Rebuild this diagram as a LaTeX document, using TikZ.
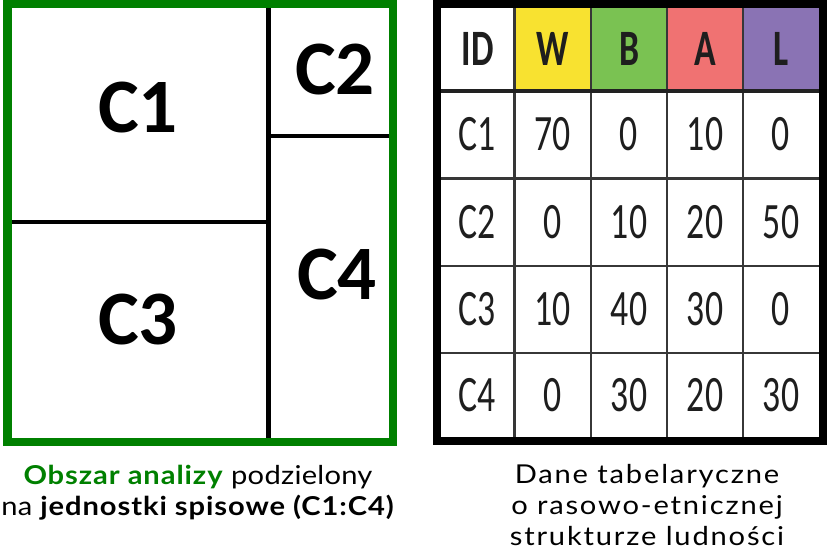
\documentclass[tikz,border=0pt]{standalone}
\usepackage{fontspec}
\setmainfont{Lato}
\newfontfamily\regionfont{Carlito}
\newfontfamily\tabfont[FakeStretch=0.7]{Carlito}
\newfontfamily\capleftfont[FakeStretch=1.12, LetterSpace=1, BoldFeatures={LetterSpace=3.5}]{Lato}
\newfontfamily\caprightfont[FakeStretch=1.12, LetterSpace=7]{Lato}
\usetikzlibrary{positioning}
\definecolor{obszarGreen}{RGB}{0,128,0}
\definecolor{colW}{RGB}{248,226,48}
\definecolor{colB}{RGB}{122,194,82}
\definecolor{colA}{RGB}{240,114,114}
\definecolor{colL}{RGB}{138,115,180}
\definecolor{gridGrey}{RGB}{55,55,55}
\definecolor{tabText}{RGB}{30,30,30}

\begin{document}
\begin{tikzpicture}[
  x=1pt, y=-1pt,
  region/.style={font=\regionfont\bfseries\fontsize{77}{77}\selectfont, inner sep=0pt},
  divider/.style={line width=4.5pt, black},
  cell/.style={font=\tabfont\fontsize{51}{51}\selectfont, text=tabText, inner sep=0pt},
  headcell/.style={font=\tabfont\bfseries\fontsize{51}{51}\selectfont, text=tabText, inner sep=0pt},
  grid/.style={line width=2.5pt, gridGrey},
  caption/.style={align=center, inner sep=0pt, anchor=north},
]
  \useasboundingbox (0,0) rectangle (827,553);

  % study area split into census units
  \draw[divider] (268.5,8) -- (268.5,442);
  \draw[divider] (11,222) -- (268.5,222);
  \draw[divider] (268.5,136) -- (389,136);
  \draw[line width=8.5pt, obszarGreen] (7.5,4) rectangle (393,442);

  \node[region] (c1) at (138,108) {C1};
  \node[region] (c2) at (335,70)  {C2};
  \node[region] (c3) at (138,320) {C3};
  \node[region] (c4) at (337,275) {C4};

  % table header
  \fill[colW] (514.5,8) rectangle (591,90);
  \fill[colB] (591,8) rectangle (667,90);
  \fill[colA] (667,8) rectangle (743,90);
  \fill[colL] (743,8) rectangle (819,90);

  \foreach \x in {514.5,591,667,743}
    \draw[grid] (\x,8) -- (\x,437);
  \foreach \y in {178.5,266,353}
    \draw[grid] (441,\y) -- (819,\y);
  \draw[line width=4pt, gridGrey!60!black] (441,91) -- (819,91);
  \draw[line width=8pt, black] (437,4) rectangle (823,441);

  \node[headcell] (hid) at (477.5,49) {ID};
  \node[headcell] (hw)  at (552.5,49) {W};
  \node[headcell] (hb)  at (629,49)   {B};
  \node[headcell] (ha)  at (705,49)   {A};
  \node[headcell] (hl)  at (781,49)   {L};

  % table rows
  \foreach \id/\w/\b/\a/\l/\y in {C1/70/0/10/0/134.5, C2/0/10/20/50/222,
      C3/10/40/30/0/309.5, C4/0/30/20/30/395} {
    \node[cell] (id-\id) at (477.5,\y) {\id};
    \node[cell] (w-\id)  at (552.5,\y) {\w};
    \node[cell] (b-\id)  at (629,\y)   {\b};
    \node[cell] (a-\id)  at (705,\y)   {\a};
    \node[cell] (l-\id)  at (781,\y)   {\l};
  }

  % captions
  \node[caption, font=\capleftfont\fontsize{26}{31}\selectfont] (capleft) at (198,465)
    {\textcolor{obszarGreen}{\textbf{Obszar analizy}} podzielony\\
     na \textbf{jednostki spisowe (C1:C4)}};
  \node[caption, font=\caprightfont\fontsize{26}{31}\selectfont] (capright) at (647,464)
    {Dane tabelaryczne\\o rasowo-etnicznej\\strukturze ludności};
\end{tikzpicture}
\end{document}
